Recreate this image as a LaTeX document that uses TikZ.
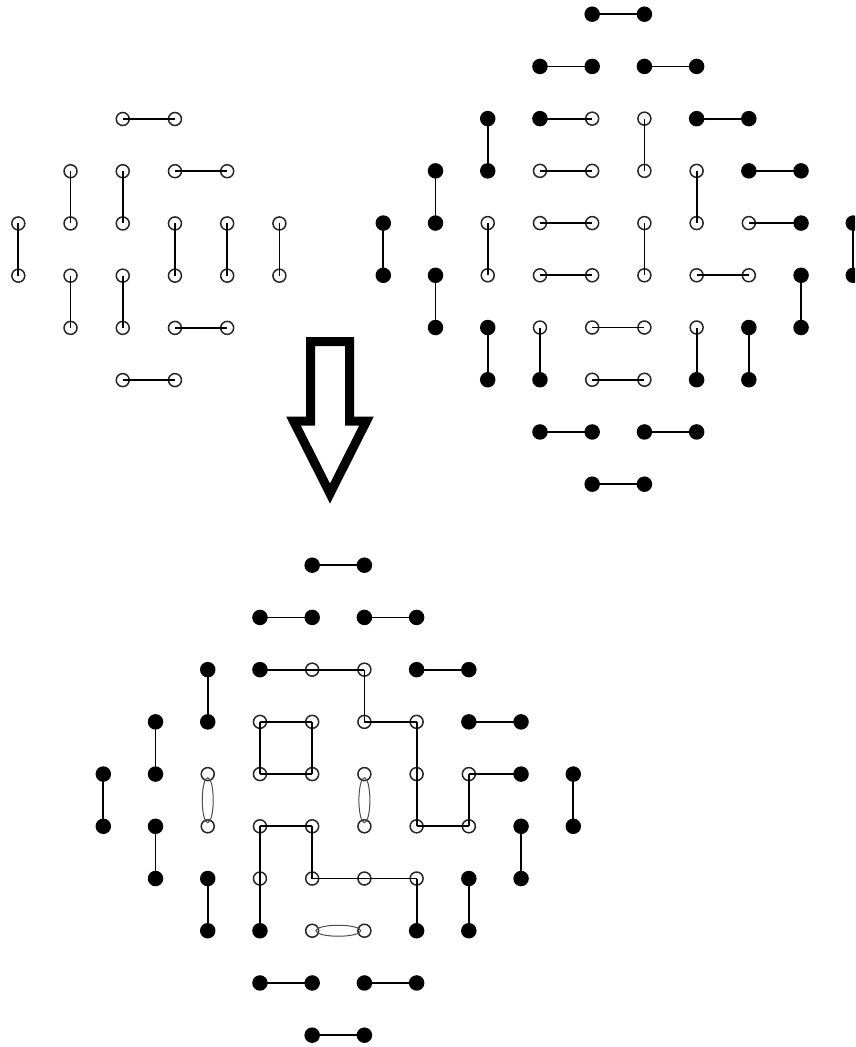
\documentclass[tikz,border=0pt]{standalone}
\usetikzlibrary{calc}
\begin{document}
\begin{tikzpicture}[x=1pt,y=-1pt,
  opn/.style={circle,draw=black!85,line width=1.5pt,inner sep=0pt,minimum size=13pt},
  full/.style={circle,fill=black,inner sep=0pt,minimum size=15.5pt},
  dimer/.style={line width=1.8pt,black},
  dbl/.style={line width=1pt,draw=black!70},
  bigarrow/.style={line width=9pt,line join=miter,black}]
\useasboundingbox (0,0) rectangle (855,1047);
\clip (0,0) rectangle (855,1047);
\def\sp{52.22}
% ---------- left figure (order 3, open) ----------
\foreach \r/\cols in {1/{3,4},2/{2,3,4,5},3/{1,2,3,4,5,6},4/{1,2,3,4,5,6},5/{2,3,4,5},6/{3,4}}
  \foreach \c in \cols
    \node[opn] (L-\c-\r) at ({18.3+(\c-1)*\sp},{119+(\r-1)*\sp}) {};
\foreach \a/\b/\c/\d in {3/1/4/1, 2/2/2/3, 3/2/3/3, 4/2/5/2, 1/3/1/4, 4/3/4/4, 5/3/5/4, 6/3/6/4,
                         2/4/2/5, 3/4/3/5, 4/5/5/5, 3/6/4/6}
  \draw[dimer] (L-\a-\b.center) -- (L-\c-\d.center);
% ---------- right and bottom figures (order 5) ----------
\foreach \P/\xo/\yo in {R/383.3/14.2, B/103.3/565.2}{
  \foreach \r/\cols in {1/{5,6},2/{4,5,6,7},3/{3,4,7,8},4/{2,3,8,9},5/{1,2,9,10},
                        6/{1,2,9,10},7/{2,3,8,9},8/{3,4,7,8},9/{4,5,6,7},10/{5,6}}
    \foreach \c in \cols
      \node[full] (\P-\c-\r) at ({\xo+(\c-1)*\sp},{\yo+(\r-1)*\sp}) {};
  \foreach \r/\cols in {3/{5,6},4/{4,5,6,7},5/{3,4,5,6,7,8},6/{3,4,5,6,7,8},7/{4,5,6,7},8/{5,6}}
    \foreach \c in \cols
      \node[opn] (\P-\c-\r) at ({\xo+(\c-1)*\sp},{\yo+(\r-1)*\sp}) {};
  % outer dominoes common to both
  \foreach \a/\b/\c/\d in {5/1/6/1, 4/2/5/2, 6/2/7/2, 3/3/3/4, 7/3/8/3, 2/4/2/5, 8/4/9/4,
                           1/5/1/6, 10/5/10/6, 2/6/2/7, 9/6/9/7, 3/7/3/8, 8/7/8/8,
                           4/9/5/9, 6/9/7/9, 5/10/6/10}
    \draw[dimer] (\P-\a-\b.center) -- (\P-\c-\d.center);
}
% right figure, remaining dominoes
\foreach \a/\b/\c/\d in {4/3/5/3, 6/3/6/4, 4/4/5/4, 7/4/7/5, 3/5/3/6, 4/5/5/5, 6/5/6/6,
                         8/5/9/5, 4/6/5/6, 7/6/8/6, 4/7/4/8, 5/7/6/7, 7/7/7/8, 5/8/6/8}
  \draw[dimer] (R-\a-\b.center) -- (R-\c-\d.center);
% bottom figure, superposition
\foreach \a/\b/\c/\d in {4/3/5/3, 5/3/6/3, 6/3/6/4, 4/4/5/4, 4/4/4/5, 5/4/5/5, 4/5/5/5,
                         6/4/7/4, 7/4/7/5, 7/5/7/6, 8/5/9/5, 8/5/8/6, 7/6/8/6,
                         4/6/5/6, 4/6/4/7, 5/6/5/7, 4/7/4/8, 5/7/6/7, 6/7/7/7, 7/7/7/8}
  \draw[dimer] (B-\a-\b.center) -- (B-\c-\d.center);
% doubled dominoes
\draw[dbl] ($(B-3-5)!0.5!(B-3-6)$) ellipse [x radius=5.5pt, y radius=22.5pt];
\draw[dbl] ($(B-6-5)!0.5!(B-6-6)$) ellipse [x radius=5.5pt, y radius=22.5pt];
\draw[dbl] ($(B-5-8)!0.5!(B-6-8)$) ellipse [x radius=22.5pt, y radius=5.5pt];
% ---------- block arrow ----------
\draw[bigarrow] (310.5,341.5) -- (310.5,421) -- (293.5,421) -- (330,493.5)
  -- (366.5,421) -- (349.5,421) -- (349.5,341.5) -- cycle;
\end{tikzpicture}
\end{document}
